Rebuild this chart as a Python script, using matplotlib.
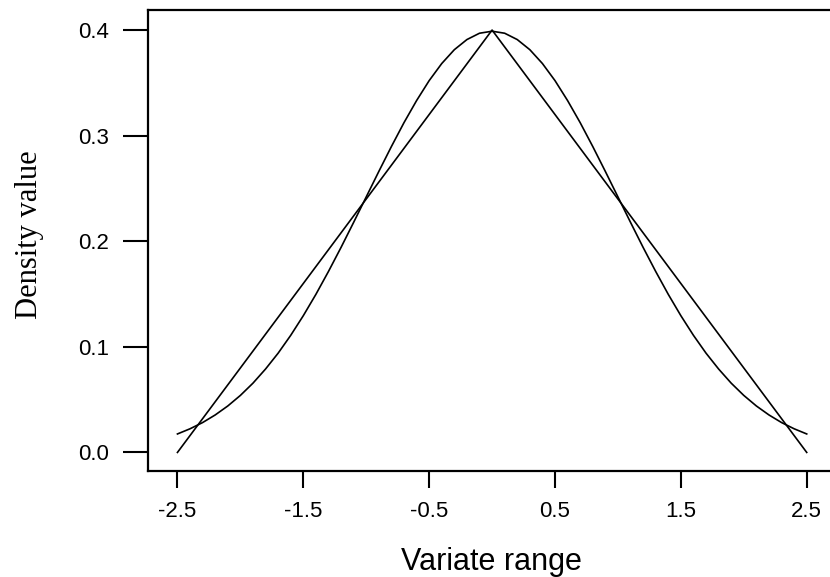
import matplotlib
matplotlib.use("Agg")
import matplotlib.pyplot as plt

# Normal density curve values (x step 0.1)
normal_x = [round(-2.5 + 0.1 * i, 1) for i in range(51)]
normal_y = [0.0175, 0.0224, 0.0283, 0.0355, 0.0440, 0.0540, 0.0656, 0.0790, 0.0940, 0.1109,
            0.1295, 0.1497, 0.1714, 0.1942, 0.2179, 0.2420, 0.2661, 0.2897, 0.3123, 0.3332,
            0.3521, 0.3683, 0.3814, 0.3910, 0.3970, 0.3989, 0.3970, 0.3910, 0.3814, 0.3683,
            0.3521, 0.3332, 0.3123, 0.2897, 0.2661, 0.2420, 0.2179, 0.1942, 0.1714, 0.1497,
            0.1295, 0.1109, 0.0940, 0.0790, 0.0656, 0.0540, 0.0440, 0.0355, 0.0283, 0.0224,
            0.0175]

# Triangular density
tri_x = [-2.5, 0.0, 2.5]
tri_y = [0.0, 0.4, 0.0]

xticks = [-2.5, -1.5, -0.5, 0.5, 1.5, 2.5]
xticklabels = ["-2.5", "-1.5", "-0.5", "0.5", "1.5", "2.5"]
yticks = [0.0, 0.1, 0.2, 0.3, 0.4]
yticklabels = ["0.0", "0.1", "0.2", "0.3", "0.4"]

fig = plt.figure(figsize=(8.3, 5.77), dpi=100)
ax = fig.add_axes([148 / 830, 1 - 470.7 / 577, 1 - 148 / 830, (470.7 - 10) / 577])

ax.plot(normal_x, normal_y, color="black", lw=1.2)
ax.plot(tri_x, tri_y, color="black", lw=1.2)

ax.set_xlim(-2.734, 2.685)
ax.set_ylim(-0.0173, 0.419)

ax.spines["right"].set_visible(False)
for s in ["left", "top", "bottom"]:
    ax.spines[s].set_linewidth(1.6)

ax.set_xticks(xticks)
ax.set_xticklabels(xticklabels, fontfamily="Liberation Sans", fontsize=16)
ax.set_yticks(yticks)
ax.set_yticklabels(yticklabels, fontfamily="Liberation Sans", fontsize=16)
ax.tick_params(axis="x", length=12.5, width=1.5, pad=9)
ax.tick_params(axis="y", length=18, width=1.5, pad=10)

fig.text(491 / 830, 1 - 570 / 577, "Variate range", ha="center", va="baseline",
         fontfamily="Liberation Sans", fontsize=22)
fig.text(30 / 830, 1 - 235 / 577, "Density value", ha="center", va="center",
         rotation=90, fontfamily="Liberation Serif", fontsize=22)

fig.savefig("out.png", dpi=100)
